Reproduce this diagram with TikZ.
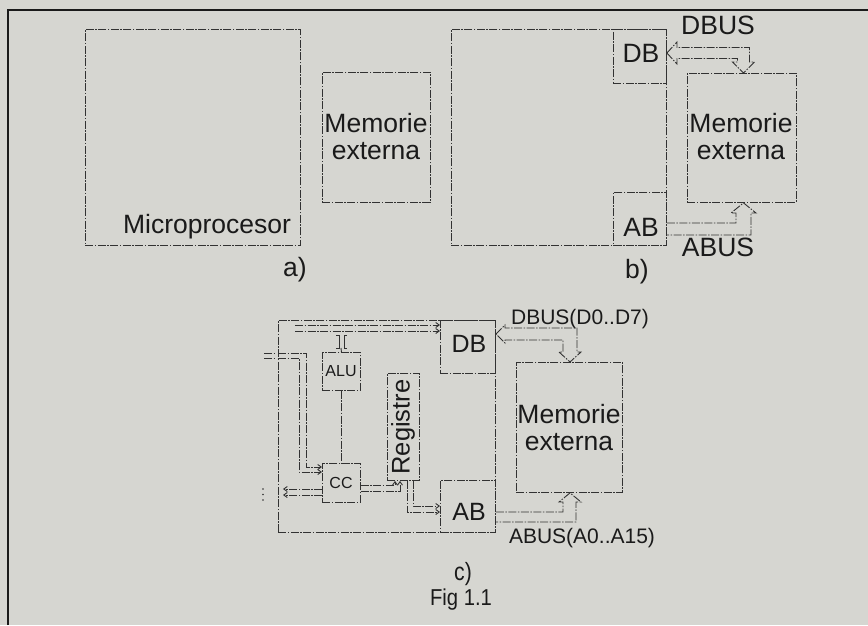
\documentclass[tikz,border=0pt]{standalone}
\usepackage{fontspec}
\setmainfont{Liberation Sans}
\usetikzlibrary{arrows.meta}
\definecolor{paper}{RGB}{214,214,209}
\definecolor{ink}{RGB}{26,26,26}
\definecolor{linec}{RGB}{50,50,50}
\begin{document}
\begin{tikzpicture}[x=1pt,y=-1pt,
  dd/.style={draw=linec,line width=0.9pt,dash pattern=on 8pt off 1.5pt on 1.5pt off 1.5pt},
  box/.style={dd,rectangle,inner sep=0pt,anchor=north west},
  big/.style={text=ink,font=\fontsize{26.5}{27}\selectfont,align=center,inner sep=0pt},
  mid/.style={text=ink,font=\fontsize{21}{22}\selectfont,inner sep=0pt},
  small/.style={text=ink,font=\fontsize{16}{17}\selectfont,inner sep=0pt},
  tip/.style={-{Straight Barb[length=3.5pt,width=5pt]}},
  frame/.style={draw=ink,line width=1.6pt}]
\fill[paper] (0,0) rectangle (868,625);
\useasboundingbox (0,0) rectangle (868,625);
% frame
\coordinate (fl) at (8,625);
\coordinate (fc) at (8,10);
\coordinate (fr) at (868,10);
\draw[frame] (fl) -- (fc) -- (fr);

% ---------- a)
\node[box,minimum width=215pt,minimum height=216pt] (mpA) at (85,29) {};
\node[big] (mpAt) at (207,227) {Microprocesor};
\node[box,minimum width=108pt,minimum height=130pt] (memA) at (322,72) {};
\node[big] (memAt) at (376,137) {Memorie\\externa};
\node[big] (la) at (295,270) {a)};

% ---------- b)
\node[box,minimum width=215pt,minimum height=216pt] (cpuB) at (451,29) {};
\node[box,minimum width=53pt,minimum height=54pt] (dbB) at (613,29) {};
\node[big] (dbBt) at (641,53) {DB};
\node[box,minimum width=53pt,minimum height=53pt] (abB) at (613,192) {};
\node[big] (abBt) at (641,227) {AB};
\node[box,minimum width=109pt,minimum height=129pt] (memB) at (687,73) {};
\node[big] (memBt) at (741,137) {Memorie\\externa};
\node[big] (dbusB) at (718,25) {DBUS};
\node[big] (abusB) at (718,247) {ABUS};
\node[big] (lb) at (637,272) {b)};
% DBUS b
\draw[dd,line join=miter] (dbB.east |- 0,53) -- (677,42) -- (677,47.5) -- (749.5,47.5) -- (749.5,62) -- (754.5,62)
  -- (memB.north -| 743.5,0) -- (732.5,62) -- (737.5,62) -- (737.5,58.5) -- (677,58.5) -- (677,64) -- cycle;
% ABUS b
\draw[dd,line join=miter] (abB.east |- 0,223) -- (736,223) -- (736,213) -- (731,213) -- (memB.south -| 743.5,0)
  -- (756,213) -- (751,213) -- (751,235) -- (abB.east |- 0,235);

% ---------- c)
\node[box,minimum width=217pt,minimum height=212pt] (cpuC) at (278,320) {};
\node[box,minimum width=55pt,minimum height=53pt] (dbC) at (440,320) {};
\node[big,font=\fontsize{25}{26}\selectfont] (dbCt) at (469,344) {DB};
\node[box,minimum width=55pt,minimum height=52pt] (abC) at (440,480) {};
\node[big,font=\fontsize{25}{26}\selectfont] (abCt) at (469,512) {AB};
\node[box,minimum width=106pt,minimum height=130pt] (memC) at (516,362) {};
\node[big] (memCt) at (569,428) {Memorie\\externa};
\node[box,minimum width=38pt,minimum height=38pt] (alu) at (322,352) {};
\node[small] (alut) at (341,371) {ALU};
\node[box,minimum width=38pt,minimum height=39pt] (cc) at (322,463) {};
\node[small] (cct) at (341,483) {CC};
\node[box,minimum width=32pt,minimum height=107pt] (reg) at (387,373) {};
\node[big,font=\fontsize{25.5}{26}\selectfont,rotate=90] (regt) at (403,427) {Registre};
\node[mid] (dbusC) at (580,319) {DBUS(D0..D7)};
\node[mid] (abusC) at (582,538) {ABUS(A0..A15)};
\node[big,xscale=0.85,font=\fontsize{25}{26}\selectfont] (lc) at (463,574) {c)};
\node[big,xscale=0.88,font=\fontsize{23}{24}\selectfont] (fig) at (461,600) {Fig 1.1};

% DBUS c
\draw[dd,line join=miter] (dbC.east |- 0,334) -- (505,325) -- (505,328) -- (577,328) -- (577,352) -- (581,352)
  -- (memC.north -| 570,0) -- (559,352) -- (563,352) -- (563,340) -- (505,340) -- (505,343) -- cycle;
% ABUS c
\draw[dd,line join=miter] (abC.east |- 0,512) -- (563,512) -- (563,502) -- (559,502) -- (memC.south -| 570,0)
  -- (581,502) -- (576,502) -- (576,522) -- (abC.east |- 0,522);

% internal data bus to DB
\draw[dd,tip] (295,325) -- (dbC.west |- 0,325);
\draw[dd,tip] (295,331) -- (dbC.west |- 0,331);
% ][ link between bus and ALU
\draw[linec,line width=0.9pt] (336,335) -- (339,335) -- (339,348) -- (336,348);
\draw[linec,line width=0.9pt] (347,335) -- (344,335) -- (344,348) -- (347,348);
\draw[dd] (341,348) -- (alu.north);
% ALU - CC
\draw[dd] (alu.south) -- (cc.north);
% inputs from the left into CC
\draw[dd,tip] (cpuC.west |- 0,353) -- (306,353) -- (306,467) -- (cc.west |- 0,467);
\draw[dd,tip] (cpuC.west |- 0,358) -- (299,358) -- (299,472) -- (cc.west |- 0,472);
\draw[dd] (264,353) -- (274,353);
\draw[dd] (264,358) -- (274,358);
% CC outputs to the left
\draw[dd,tip] (cc.west |- 0,489) -- (283,489);
\draw[dd,tip] (cc.west |- 0,495) -- (283,495);
\fill[linec] (263,489) circle (0.9) (263,494.5) circle (0.9) (263,500) circle (0.9);
% CC - Registre
\draw[dd,tip] (cc.east |- 0,485) -- (395,485) -- (reg.south -| 395,0);
\draw[dd,tip] (cc.east |- 0,491) -- (400,491) -- (reg.south -| 400,0);
% Registre - AB
\draw[dd,tip] (reg.south -| 407,0) -- (407,512) -- (abC.west |- 0,512);
\draw[dd,tip] (reg.south -| 413,0) -- (413,506) -- (abC.west |- 0,506);
\end{tikzpicture}
\end{document}
